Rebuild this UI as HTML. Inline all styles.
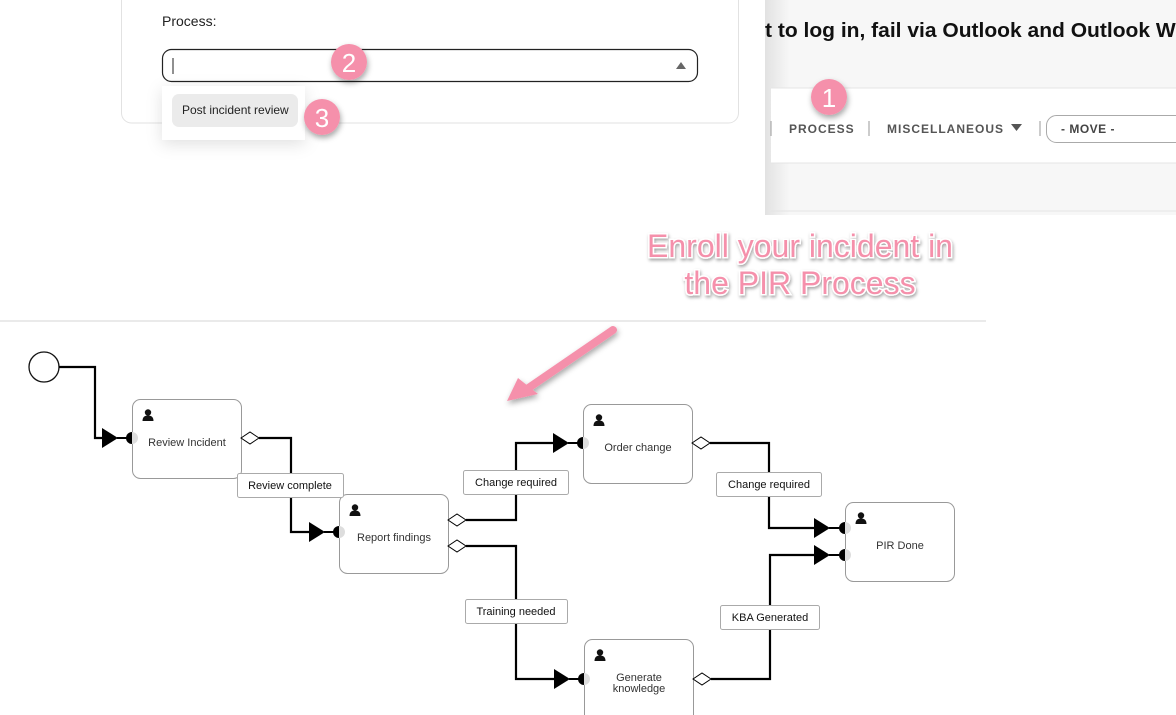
<!DOCTYPE html>
<html><head><meta charset="utf-8"><style>
html,body{margin:0;padding:0;width:1176px;height:715px;overflow:hidden;background:#fff}
svg{display:block}
text{font-family:"Liberation Sans",Arial,sans-serif}
</style></head><body>
<svg width="1176" height="715" viewBox="0 0 1176 715" xmlns="http://www.w3.org/2000/svg">
<defs>
<filter id="sh" x="-50%" y="-50%" width="200%" height="200%"><feDropShadow dx="1" dy="3" stdDeviation="3" flood-color="#000" flood-opacity="0.35"/></filter>
<filter id="sh2" x="-50%" y="-50%" width="200%" height="200%"><feDropShadow dx="0" dy="4" stdDeviation="8" flood-color="#000" flood-opacity="0.12"/></filter>
<filter id="tsh" x="-20%" y="-20%" width="140%" height="140%"><feDropShadow dx="1" dy="2" stdDeviation="1.5" flood-color="#000" flood-opacity="0.35"/></filter>
<linearGradient id="pg" x1="0" x2="1"><stop offset="0" stop-color="#e2e2e2"/><stop offset="0.06" stop-color="#f7f7f7"/></linearGradient>
<g id="user"><circle cx="0" cy="-3.5" r="3.2" fill="#111"/><path d="M-5.5 5 Q-5.5 -0.5 0 -0.5 Q5.5 -0.5 5.5 5 Z" fill="#111"/></g>
</defs>

<rect x="765" y="0" width="411" height="215" fill="url(#pg)"/>
<rect x="771" y="88" width="405" height="75" fill="#fff"/>
<line x1="771" y1="88" x2="1176" y2="88" stroke="#e4e4e4"/>
<line x1="771" y1="163" x2="1176" y2="163" stroke="#e4e4e4"/>
<line x1="771" y1="211" x2="1176" y2="211" stroke="#e4e4e4"/>
<text x="765" y="37" font-size="20" font-weight="bold" fill="#111" textLength="422" lengthAdjust="spacingAndGlyphs">t to log in, fail via Outlook and Outlook We</text>
<line x1="771" y1="121" x2="771" y2="136" stroke="#999"/>
<text x="789" y="133" font-size="12" font-weight="bold" fill="#555" letter-spacing="1">PROCESS</text>
<line x1="869" y1="121" x2="869" y2="136" stroke="#999"/>
<text x="887" y="133" font-size="12" font-weight="bold" fill="#555" letter-spacing="1">MISCELLANEOUS</text>
<path d="M1011 124 L1022 124 L1016.5 131 Z" fill="#555"/>
<line x1="1040" y1="121" x2="1040" y2="136" stroke="#999"/>
<rect x="1046.5" y="115.5" width="140" height="27" rx="10" fill="#fff" stroke="#aaa"/>
<text x="1061" y="133" font-size="12" font-weight="bold" fill="#444" letter-spacing="0.5">- MOVE -</text>

<rect x="121.5" y="-10" width="617" height="133" rx="10" fill="#fff" stroke="#e2e2e2"/>
<text x="162" y="26" font-size="14" fill="#222">Process:</text>
<rect x="162.5" y="49.5" width="535" height="32" rx="9" fill="#fff" stroke="#222" stroke-width="1.2"/>
<line x1="173" y1="58" x2="173" y2="74" stroke="#222"/>
<path d="M676 69 L686 69 L681 62 Z" fill="#666"/>
<rect x="162" y="86" width="143" height="54" fill="#fff" filter="url(#sh2)"/>
<rect x="172" y="94" width="126" height="33" rx="7" fill="#ebebeb"/>
<text x="182" y="114" font-size="12" fill="#222">Post incident review</text>

<g filter="url(#sh)" fill="#f590ab">
<circle cx="349" cy="62" r="18"/><circle cx="829" cy="97" r="18"/><circle cx="322" cy="117" r="18"/>
</g>
<g font-size="26" fill="#fff" text-anchor="middle">
<text x="349" y="72">2</text><text x="829" y="107">1</text><text x="322" y="127">3</text>
</g>

<line x1="0" y1="321" x2="986" y2="321" stroke="#e4e4e4" stroke-width="1.5"/>
<g font-size="32" fill="#f590ab" text-anchor="middle" stroke="#fff" stroke-width="3" paint-order="stroke" filter="url(#tsh)">
<text x="800" y="257">Enroll your incident in</text>
<text x="800" y="294">the PIR Process</text>
</g>
<g filter="url(#sh)">
<line x1="613" y1="330" x2="527" y2="389" stroke="#f590ab" stroke-width="8" stroke-linecap="round"/>
<path d="M507 401 L518 378 L538 394 Z" fill="#f590ab"/>
</g>

<circle cx="44" cy="367" r="15" fill="#fff" stroke="#111" stroke-width="1.3"/>
<g fill="none" stroke="#000" stroke-width="2.2">
<path d="M59 367 H95 V438 H102"/>
<path d="M259 438 H291 V532 H310"/>
<path d="M466 520 H516 V443 H554"/>
<path d="M466 546 H516 V679 H554"/>
<path d="M710 443 H769 V528 H815"/>
<path d="M711 679 H770 V555 H815"/>
</g>

<g fill="#fff" stroke="#999" stroke-width="1">
<rect x="132.5" y="399.5" width="109" height="79" rx="8"/>
<rect x="339.5" y="494.5" width="109" height="79" rx="8"/>
<rect x="583.5" y="404.5" width="109" height="79" rx="8"/>
<rect x="584.5" y="639.5" width="109" height="90" rx="8"/>
<rect x="845.5" y="502.5" width="109" height="79" rx="8"/>
</g>
<use href="#user" x="148" y="416"/>
<use href="#user" x="355" y="511"/>
<use href="#user" x="599" y="421"/>
<use href="#user" x="600" y="656"/>
<use href="#user" x="861" y="519"/>
<g font-size="11" fill="#333" text-anchor="middle">
<text x="187" y="446">Review Incident</text>
<text x="394" y="541">Report findings</text>
<text x="638" y="451">Order change</text>
<text x="639" y="681">Generate</text>
<text x="639" y="692">knowledge</text>
<text x="900" y="549">PIR Done</text>
</g>

<g>
<path d="M102 428 L102 448 L118 438 Z"/><line x1="117" y1="438" x2="127" y2="438" stroke="#000" stroke-width="2"/><path d="M132 432 A6 6 0 0 0 132 444 Z"/><path d="M132 432 A6 6 0 0 1 132 444 Z" fill="#ddd"/>
<path d="M309 522 L309 542 L325 532 Z"/><line x1="324" y1="532" x2="334" y2="532" stroke="#000" stroke-width="2"/><path d="M339 526 A6 6 0 0 0 339 538 Z"/><path d="M339 526 A6 6 0 0 1 339 538 Z" fill="#ddd"/>
<path d="M553 433 L553 453 L569 443 Z"/><line x1="568" y1="443" x2="578" y2="443" stroke="#000" stroke-width="2"/><path d="M583 437 A6 6 0 0 0 583 449 Z"/><path d="M583 437 A6 6 0 0 1 583 449 Z" fill="#ddd"/>
<path d="M554 669 L554 689 L570 679 Z"/><line x1="569" y1="679" x2="579" y2="679" stroke="#000" stroke-width="2"/><path d="M584 673 A6 6 0 0 0 584 685 Z"/><path d="M584 673 A6 6 0 0 1 584 685 Z" fill="#ddd"/>
<path d="M814 518 L814 538 L830 528 Z"/><line x1="829" y1="528" x2="839" y2="528" stroke="#000" stroke-width="2"/><path d="M845 522 A6 6 0 0 0 845 534 Z"/><path d="M845 522 A6 6 0 0 1 845 534 Z" fill="#ddd"/>
<path d="M814 545 L814 565 L830 555 Z"/><line x1="829" y1="555" x2="839" y2="555" stroke="#000" stroke-width="2"/><path d="M845 549 A6 6 0 0 0 845 561 Z"/><path d="M845 549 A6 6 0 0 1 845 561 Z" fill="#ddd"/>
</g>

<g fill="#fff" stroke="#000" stroke-width="1">
<path d="M241 438 L250 432 L259 438 L250 444 Z"/>
<path d="M448 520 L457 514 L466 520 L457 526 Z"/>
<path d="M448 546 L457 540 L466 546 L457 552 Z"/>
<path d="M692 443 L701 437 L710 443 L701 449 Z"/>
<path d="M693 679 L702 673 L711 679 L702 685 Z"/>
</g>

<g fill="#fff" stroke="#aaa">
<rect x="237.5" y="473.5" width="106" height="24" rx="2"/>
<rect x="463.5" y="470.5" width="105" height="24" rx="2"/>
<rect x="465.5" y="599.5" width="102" height="24" rx="2"/>
<rect x="716.5" y="472.5" width="105" height="24" rx="2"/>
<rect x="720.5" y="605.5" width="99" height="24" rx="2"/>
</g>
<g font-size="11" fill="#111" text-anchor="middle">
<text x="290" y="489">Review complete</text>
<text x="516" y="486">Change required</text>
<text x="516" y="615">Training needed</text>
<text x="769" y="488">Change required</text>
<text x="770" y="621">KBA Generated</text>
</g>
</svg>
</body></html>
